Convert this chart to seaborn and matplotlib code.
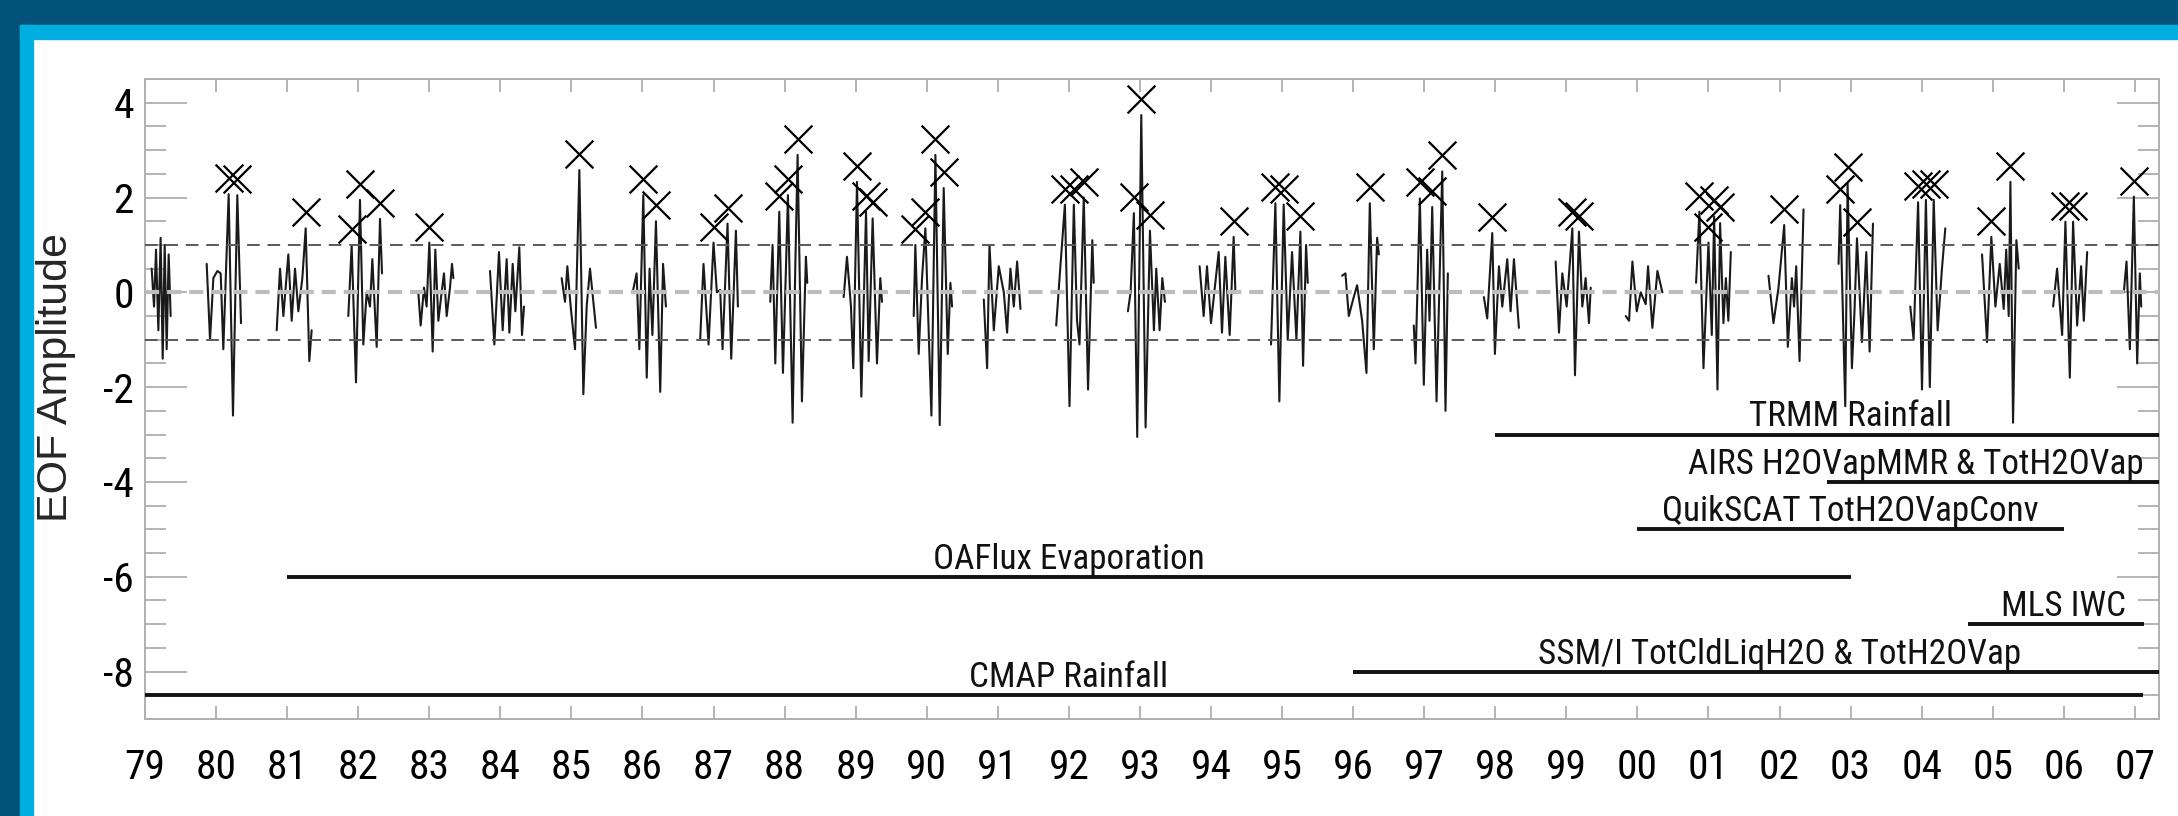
import os
import numpy as np
import pandas as pd
import matplotlib
matplotlib.use("Agg")
import matplotlib.pyplot as plt
import seaborn as sns
from matplotlib import font_manager as fm
from matplotlib.font_manager import FontProperties
from matplotlib.patches import Rectangle
from matplotlib.transforms import ScaledTranslation
from matplotlib.ticker import FixedLocator, MultipleLocator

# ---------------- data ----------------
time_yr = [
    1979.094, 1979.127, 1979.155, 1979.188, 1979.220, 1979.249, 1979.277, 1979.305, 1979.333, 1979.361,
    1979.868, 1979.915, 1979.962, 1980.018, 1980.065, 1980.102, 1980.177, 1980.238, 1980.299, 1980.351,
    1980.853, 1980.900, 1980.947, 1981.017, 1981.064, 1981.111, 1981.158, 1981.214, 1981.261, 1981.312, 1981.345,
    1981.861, 1981.908, 1981.969, 1982.025, 1982.072, 1982.119, 1982.166, 1982.199, 1982.260, 1982.307, 1982.335,
    1982.846, 1982.879, 1982.926, 1982.963, 1983.001, 1983.048, 1983.085, 1983.128, 1983.174, 1983.207, 1983.245, 1983.292, 1983.320, 1983.339,
    1983.855, 1983.916, 1983.981, 1984.033, 1984.089, 1984.127, 1984.174, 1984.211, 1984.267, 1984.305, 1984.333,
    1984.863, 1984.910, 1984.943, 1984.990, 1985.051, 1985.112, 1985.168, 1985.215, 1985.262, 1985.346,
    1985.862, 1985.918, 1985.956, 1986.012, 1986.060, 1986.100, 1986.140, 1986.190, 1986.250, 1986.290, 1986.330,
    1986.812, 1986.859, 1986.930, 1987.000, 1987.047, 1987.094, 1987.127, 1987.197, 1987.249, 1987.315, 1987.343,
    1987.798, 1987.831, 1987.869, 1987.925, 1987.977, 1988.019, 1988.047, 1988.113, 1988.150, 1988.183, 1988.244, 1988.300, 1988.319,
    1988.831, 1988.878, 1988.934, 1988.967, 1989.019, 1989.080, 1989.146, 1989.183, 1989.239, 1989.300, 1989.347, 1989.371,
    1989.817, 1989.840, 1989.887, 1989.934, 1989.981, 1990.066, 1990.122, 1990.183, 1990.239, 1990.296, 1990.333, 1990.357,
    1990.803, 1990.850, 1990.883, 1990.944, 1991.014, 1991.085, 1991.131, 1991.178, 1991.225, 1991.272, 1991.319,
    1991.822, 1991.869, 1991.944, 1992.009, 1992.070, 1992.115, 1992.150, 1992.210, 1992.270, 1992.330, 1992.350,
    1992.831, 1992.869, 1992.915, 1992.962, 1993.019, 1993.080, 1993.141, 1993.197, 1993.230, 1993.277, 1993.315, 1993.352,
    1993.840, 1993.897, 1993.944, 1994.000, 1994.061, 1994.108, 1994.155, 1994.202, 1994.263, 1994.319, 1994.343,
    1994.845, 1994.906, 1994.962, 1995.023, 1995.080, 1995.141, 1995.202, 1995.258, 1995.296, 1995.338, 1995.362,
    1995.845, 1995.892, 1995.939, 1996.000, 1996.056, 1996.127, 1996.188, 1996.235, 1996.291, 1996.338, 1996.362,
    1996.854, 1996.878, 1996.939, 1996.995, 1997.042, 1997.075, 1997.113, 1997.174, 1997.254, 1997.300, 1997.333,
    1997.840, 1997.887, 1997.958, 1997.995, 1998.052, 1998.099, 1998.169, 1998.216, 1998.263, 1998.333,
    1998.850, 1998.897, 1998.944, 1999.005, 1999.085, 1999.122, 1999.178, 1999.225, 1999.272, 1999.319, 1999.343,
    1999.836, 1999.883, 1999.930, 1999.991, 2000.047, 2000.117, 2000.150, 2000.211, 2000.282, 2000.352,
    2000.826, 2000.873, 2000.930, 2001.000, 2001.047, 2001.080, 2001.127, 2001.164, 2001.211, 2001.245, 2001.280, 2001.315,
    2001.845, 2001.915, 2001.986, 2002.066, 2002.117, 2002.174, 2002.205, 2002.235, 2002.282, 2002.338,
    2002.831, 2002.854, 2002.925, 2002.958, 2003.019, 2003.055, 2003.090, 2003.160, 2003.221, 2003.268, 2003.315,
    2003.840, 2003.887, 2003.950, 2004.005, 2004.060, 2004.115, 2004.170, 2004.225, 2004.286, 2004.333,
    2004.850, 2004.920, 2004.981, 2005.038, 2005.099, 2005.155, 2005.190, 2005.225, 2005.249, 2005.286, 2005.333, 2005.366,
    2005.850, 2005.906, 2005.977, 2006.023, 2006.085, 2006.131, 2006.188, 2006.244, 2006.282, 2006.329,
    2006.845, 2006.883, 2006.930, 2006.986, 2007.033, 2007.070, 2007.090,
]
eof_amp = [
    0.5, -0.3, 0.9, -0.8, 1.15, -1.4, 1.0, -1.2, 0.8, -0.5,
    0.6, -1.0, 0.3, 0.45, 0.4, -1.2, 2.07, -2.6, 2.05, -0.65,
    -0.8, 0.5, -0.5, 0.8, -0.6, 0.5, -0.4, 0.3, 1.35, -1.45, -0.8,
    -0.5, 1.0, -1.9, 1.95, -1.1, 0.0, -0.3, 0.7, -1.15, 1.55, 0.4,
    0.0, -0.7, 0.1, -0.3, 1.05, -1.25, 0.9, -0.6, 0.0, 0.4, -0.5, 0.1, 0.6, 0.3,
    0.45, -1.1, 0.85, -0.8, 0.7, -0.85, 0.6, -0.4, 0.95, -0.9, -0.3,
    0.3, -0.2, 0.55, -0.3, -1.2, 2.58, -2.15, -0.3, 0.5, -0.75,
    0.0, 0.4, -1.2, 2.05, -1.8, 0.5, -0.9, 1.5, -2.1, 0.6, -0.3,
    -1.0, 0.6, -1.1, 1.05, 0.0, 0.05, -1.2, 1.45, -1.4, 1.3, -0.3,
    -0.2, 1.0, -1.5, 1.7, -1.7, 0.5, 2.05, -2.75, 0.5, 2.9, -2.3, 0.75, 0.2,
    -0.1, 0.75, -0.3, -1.6, 2.33, -2.2, 1.7, -1.45, 1.56, -1.5, 0.3, -0.2,
    -0.5, 1.0, -1.3, 0.3, 1.35, -2.6, 2.9, -2.8, 2.2, -1.3, 0.2, -0.3,
    -0.15, -1.6, 1.0, -0.8, 0.55, 0.0, -0.85, 0.5, -0.3, 0.65, -0.35,
    -0.7, 0.3, 1.85, -2.4, 1.85, -0.6, -1.1, 2.0, -2.05, 1.1, 0.2,
    -0.4, 0.0, 1.67, -3.05, 3.74, -2.85, 1.3, -0.8, 0.5, -0.8, 0.3, -0.2,
    0.55, -0.5, 0.55, -0.65, 0.2, 0.85, -0.85, 0.75, -0.9, 1.17, 0.0,
    -1.1, 1.88, -2.3, 1.85, -1.0, 0.85, -1.0, 1.28, -1.55, 1.0, 0.2,
    0.35, 0.4, -0.5, -0.15, 0.15, -0.6, -1.7, 1.88, -1.2, 1.15, 0.8,
    -0.7, -1.5, 1.98, -1.95, 0.9, -0.6, 1.8, -2.3, 2.55, -2.5, 0.4,
    -0.1, -0.55, 1.25, -1.3, 0.55, -0.3, 0.7, -0.4, 0.7, -0.75,
    0.65, -0.85, 0.4, -0.3, 1.35, -1.75, 1.28, -0.3, 0.3, -0.65, 0.1,
    -0.5, -0.6, 0.65, -0.4, 0.0, -0.25, 0.55, -0.75, 0.45, 0.0,
    0.2, 1.7, -1.6, 1.05, -0.9, 1.6, -2.05, 1.46, -0.65, 0.3, -0.6, 0.85,
    0.35, -0.65, 0.1, 1.42, -1.15, 0.3, -0.3, 0.55, -1.45, 1.75,
    0.6, 1.84, -2.4, 2.3, -1.6, -0.4, 1.14, -1.05, 0.85, -1.25, 1.45,
    -0.3, -1.0, 1.9, -2.05, 1.95, -2.0, 1.95, -0.8, 0.5, 1.35,
    0.8, -1.05, 1.17, -0.3, 0.6, -0.35, 0.9, -0.5, 2.33, -2.75, 1.1, 0.5,
    -0.3, 0.5, -0.9, 1.49, -1.8, 1.49, -0.7, 0.55, -0.6, 0.85,
    0.0, 0.65, -1.2, 2.02, -1.5, 0.4, -0.3,
]
# events marked with an X
peak_time = [
    1980.177, 1980.299, 1981.261, 1981.908, 1982.025, 1982.307, 1983.001, 1985.112,
    1986.012, 1986.190, 1987.000, 1987.197, 1987.925, 1988.047, 1988.183,
    1989.019, 1989.146, 1989.239, 1989.840, 1989.981, 1990.122, 1990.239,
    1991.944, 1992.070, 1992.210, 1992.915, 1993.019, 1993.141, 1994.319,
    1994.906, 1995.023, 1995.258, 1996.235, 1996.939, 1997.113, 1997.254,
    1997.958, 1999.085, 1999.178, 2000.873, 2001.000, 2001.080, 2001.164,
    2002.066, 2002.854, 2002.958, 2003.090, 2003.950, 2004.060, 2004.170,
    2004.981, 2005.249, 2006.023, 2006.131, 2006.986,
]
year_ticks = list(range(1979, 2008))
year_labels = ["%02d" % (y % 100) for y in year_ticks]

dataset_names = ["TRMM Rainfall", "AIRS H2OVapMMR & TotH2OVap", "QuikSCAT TotH2OVapConv",
                 "OAFlux Evaporation", "MLS IWC", "SSM/I TotCldLiqH2O & TotH2OVap", "CMAP Rainfall"]
dataset_level = [-3, -4, -5, -6, -7, -8, -8.5]
dataset_start = [1998.0, 2002.67, 2000.0, 1981.0, 2004.65, 1996.0, 1979.0]
dataset_end = [2007.34, 2007.34, 2006.0, 2003.0, 2007.13, 2007.34, 2007.11]
label_center = [2003.0, 2003.92, 2003.0, 1992.0, 2006.0, 2002.0, 1992.0]

# ---------------- fonts: look for a narrow sans ----------------
def find_narrow_font():
    files = fm.findSystemFonts() + [f.fname for f in fm.fontManager.ttflist]
    prefs = [
        lambda n: "liberationsansnarrow-regular" in n,
        lambda n: "robotocondensed-regular" in n or ("roboto" in n and "condensed-regular" in n),
        lambda n: "notosans-condensed." in n or "notosans-condensedregular" in n,
        lambda n: "opensans" in n and "condensed-regular" in n,
        lambda n: "opensans_condensed-regular" in n,
        lambda n: n.endswith("dejavusanscondensed.ttf"),
    ]
    names = [(os.path.basename(f).lower(), f) for f in files]
    for rank, p in enumerate(prefs):
        for n, f in names:
            if p(n):
                return f, rank
    return None, None

narrow_path, narrow_rank = find_narrow_font()

sns.set_style("white")
plt.rcParams["font.family"] = ["Liberation Sans", "DejaVu Sans"]
plt.rcParams["axes.unicode_minus"] = False

W, H = 2178, 816
fig = plt.figure(figsize=(W / 100, H / 100), dpi=100, facecolor="white")
renderer = fig.canvas.get_renderer()


def make_fp(size):
    if narrow_path:
        return FontProperties(fname=narrow_path, size=size)
    return FontProperties(family=["Liberation Sans", "DejaVu Sans"], size=size)


def fitted_size(sample, target_px, max_size):
    t = fig.text(0, 0, sample, fontproperties=make_fp(max_size))
    w = t.get_window_extent(renderer).width
    t.remove()
    return max_size * min(1.0, target_px / w)


ann_size = fitted_size("TRMM Rainfall", 203, 27)
tick_size = fitted_size("00", 41, 34)

dark, light = "#02527A", "#00AEDF"
fig.patches.extend([
    Rectangle((0, 1 - 25 / H), 1, 25 / H, transform=fig.transFigure, color=dark, zorder=0),
    Rectangle((0, 0), 20 / W, 1, transform=fig.transFigure, color=dark, zorder=0),
    Rectangle((20 / W, 1 - 39 / H), 1, 14 / H, transform=fig.transFigure, color=light, zorder=0),
    Rectangle((20 / W, 0), 13 / W, 1 - 25 / H, transform=fig.transFigure, color=light, zorder=0),
])

ax = fig.add_axes([145 / W, (H - 719) / H, 2014 / W, 640 / H])
ax.set_facecolor("white")

df = pd.DataFrame({"t": time_yr, "amp": eof_amp})
df["season"] = np.floor(df["t"] + 0.5).astype(int)

sns.lineplot(data=df, x="t", y="amp", units="season", estimator=None,
             color="#1a1a1a", lw=1.5, ax=ax, legend=False, zorder=2)

amp_lookup = dict(zip(time_yr, eof_amp))
peaks = pd.DataFrame({"t": peak_time, "amp": [amp_lookup[t] for t in peak_time]})
offset = ax.transData + ScaledTranslation(0, 0.16, fig.dpi_scale_trans)
sns.scatterplot(data=peaks, x="t", y="amp", marker="x", s=400, color="black",
                linewidth=1.6, ax=ax, legend=False, zorder=4, transform=offset)

# reference lines
ax.axhline(0, color="#bdbdbd", lw=3.0, ls=(0, (3.4, 1.9)), zorder=3)
for lv in (1, -1):
    ax.axhline(lv, color="#5a5a5a", lw=1.4, ls=(0, (6.5, 4.0)), zorder=3)

# dataset coverage bars
for name, lv, s0, s1, xc in zip(dataset_names, dataset_level, dataset_start, dataset_end, label_center):
    ax.hlines(lv, s0, s1, color="#111111", lw=2.8, zorder=3)
    ax.text(xc, lv + 0.17, name, ha="center", va="baseline", fontproperties=make_fp(ann_size),
            color="#111111", zorder=5)

ax.set_xlim(1979, 2007.34)
ax.set_ylim(-9, 4.5)
ax.xaxis.set_major_locator(FixedLocator(year_ticks))
ax.set_xticks(year_ticks)
ax.set_xticklabels(year_labels)
ax.yaxis.set_major_locator(MultipleLocator(2))
ax.yaxis.set_minor_locator(MultipleLocator(0.5))
tick_col = "#a0a0a0"
ax.tick_params(axis="x", which="major", direction="in", length=9.5, width=1.1, color=tick_col,
               top=True, bottom=True, pad=21, labelcolor="black")
ax.tick_params(axis="x", which="minor", bottom=False, top=False)
ax.tick_params(axis="y", which="major", direction="in", length=30, width=1.1, color=tick_col,
               left=True, right=True, pad=8, labelcolor="black")
ax.tick_params(axis="y", which="minor", direction="in", length=15, width=1.1, color=tick_col,
               left=True, right=True)
ax.set_yticks([-8, -6, -4, -2, 0, 2, 4])
ax.set_yticklabels(["-8", "-6", "-4", "-2", "0", "2", "4"])
for lab in ax.get_xticklabels() + ax.get_yticklabels():
    lab.set_fontproperties(make_fp(tick_size))
for sp in ax.spines.values():
    sp.set_color("#b0b0b0")
    sp.set_linewidth(1.4)

ax.set_xlabel("")
ax.set_ylabel("EOF Amplitude", fontsize=31, family=["Liberation Sans", "DejaVu Sans"])
ax.yaxis.set_label_coords(-0.0442, 0.533)
ax.yaxis.label.set_verticalalignment("center")

fig.savefig("out.png", dpi=100, facecolor="white")
